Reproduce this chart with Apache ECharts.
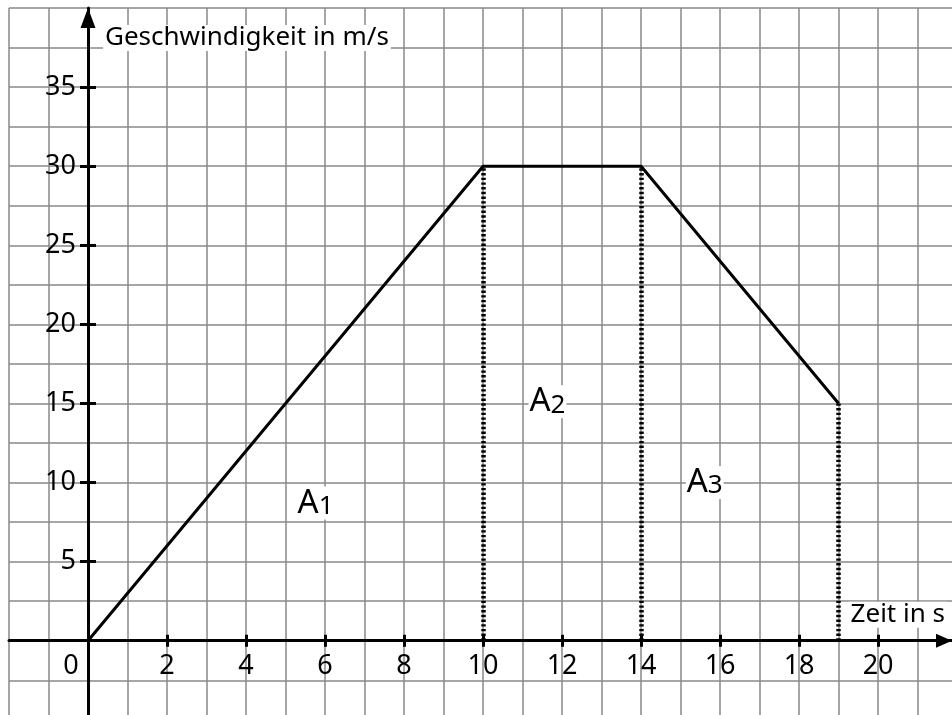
<!DOCTYPE html>
<html><head><meta charset="utf-8">
<script src="https://cdn.jsdelivr.net/npm/echarts@6/dist/echarts.min.js"></script>
<style>html,body{margin:0;padding:0;background:#fff}#c{width:952px;height:715px}</style>
</head><body><div id="c"></div>
<script>
// ---- data ----
const timeS = [0, 10, 14, 19];
const speedMs = [0, 30, 30, 15];
const xTickValues = [2, 4, 6, 8, 10, 12, 14, 16, 18, 20];
const yTickValues = [5, 10, 15, 20, 25, 30, 35];
const areaNames = ['1', '2', '3'];
const areaLabelX = [5.76, 11.63, 15.61];
const areaLabelY = [8.7, 15.1, 10.0];
const xAxisTitle = 'Zeit in s';
const yAxisTitle = 'Geschwindigkeit in m/s';

// ---- chart ----
const FONT = 'Noto Sans';
const gridColor = '#888888';
const chart = echarts.init(document.getElementById('c'), null, {renderer: 'canvas'});

const speedPoints = timeS.map((t, i) => [t, speedMs[i]]);
const dropLines = timeS.slice(1).map((t, i) => [{coord: [t, 0]}, {coord: [t, speedMs[i + 1]]}]);
const areaPoints = areaNames.map((n, i) => ({value: [areaLabelX[i], areaLabelY[i]], name: n}));

const X_MIN = -2, X_MAX = 21.87, Y_MIN = -5, Y_MAX = 40;
const W = 952, H = 715, G_LEFT = 9, G_TOP = 8, G_BOTTOM = -4.8;
const pxPerX = (W - G_LEFT) / (X_MAX - X_MIN);
const pxPerY = (H - G_TOP - G_BOTTOM) / (Y_MAX - Y_MIN);
const zeroLeft = G_LEFT - X_MIN * pxPerX;           // pixel column of t = 0
const zeroBottom = H - (G_TOP + Y_MAX * pxPerY);    // distance of v = 0 from the bottom

const tickStyle = {color: '#000', width: 3};
const txt = {fontSize: 26, fontFamily: FONT, color: '#000'};
const tickTxt = {fontSize: 27, fontFamily: FONT, color: '#000'};
const off = {show: false};

const option = {
  animation: false,
  grid: [
    {left: G_LEFT, right: 0, top: G_TOP, bottom: G_BOTTOM, containLabel: false, outerBoundsMode: 'none'},
    {left: zeroLeft, right: 0, top: G_TOP, bottom: zeroBottom, containLabel: false, outerBoundsMode: 'none'}
  ],
  xAxis: [
    { // 0: grid lines every 1 s
      type: 'value', gridIndex: 0, position: 'top', min: X_MIN, max: X_MAX, interval: 1,
      axisLine: {show: false, onZero: false}, axisTick: off, axisLabel: off,
      splitLine: {show: true, showMinLine: true, showMaxLine: false, lineStyle: {color: gridColor, width: 1.5}}
    },
    { // 1: main time axis
      type: 'value', gridIndex: 0, position: 'bottom', min: X_MIN, max: X_MAX, interval: 2,
      axisLine: {show: true, onZero: true, onZeroAxisIndex: 1, symbol: ['none', 'triangle'],
        symbolSize: [14, 16], symbolOffset: [0, -8], lineStyle: {color: '#000', width: 3}},
      axisTick: {show: true, customValues: xTickValues, length: 6, lineStyle: tickStyle},
      axisLabel: off, splitLine: off,
      name: '{t|' + xAxisTitle + '}', nameLocation: 'end', nameGap: 0, nameMoveOverlap: false,
      nameTextStyle: {align: 'right', verticalAlign: 'bottom', padding: [0, 5, 13, 0],
        rich: {t: Object.assign({backgroundColor: '#fff', padding: [0, 2, 0, 2]}, txt)}}
    },
    { // 2: upper half of crossing ticks
      type: 'value', gridIndex: 0, position: 'top', min: X_MIN, max: X_MAX, interval: 2,
      axisLine: {show: true, onZero: true, onZeroAxisIndex: 1, lineStyle: {opacity: 0}},
      axisTick: {show: true, customValues: xTickValues, length: 6, lineStyle: tickStyle},
      axisLabel: off, splitLine: off
    },
    { // 3: tick labels of the time axis (grid whose bottom edge is v = 0)
      type: 'value', gridIndex: 1, position: 'bottom', min: 0, max: X_MAX, interval: 2,
      axisLine: {show: false, onZero: false}, axisTick: off, splitLine: off,
      axisLabel: Object.assign({show: true, margin: 12, showMinLabel: true, showMaxLabel: false,
        formatter: v => v === 0 ? '{z|0}' : (v > 0 && v <= 20 ? String(v) : ''),
        rich: {z: Object.assign({padding: [0, 34, 0, 0]}, tickTxt)}}, tickTxt)
    }
  ],
  yAxis: [
    { // 0: grid lines every 2.5 m/s
      type: 'value', gridIndex: 0, position: 'right', min: Y_MIN, max: Y_MAX, interval: 2.5,
      axisLine: {show: false, onZero: false}, axisTick: off, axisLabel: off,
      splitLine: {show: true, lineStyle: {color: gridColor, width: 1.5}}
    },
    { // 1: main speed axis
      type: 'value', gridIndex: 0, position: 'left', min: Y_MIN, max: Y_MAX, interval: 5,
      axisLine: {show: true, onZero: true, onZeroAxisIndex: 1, symbol: ['none', 'triangle'],
        symbolSize: [15, 20], symbolOffset: [0, -10], lineStyle: {color: '#000', width: 3}},
      axisTick: {show: true, customValues: yTickValues, length: 8, lineStyle: tickStyle},
      axisLabel: off, splitLine: off,
      name: '{t|' + yAxisTitle + '}', nameLocation: 'end', nameGap: 0, nameMoveOverlap: false,
      nameTextStyle: {align: 'left', verticalAlign: 'top', padding: [17, 0, 0, 15],
        rich: {t: Object.assign({backgroundColor: '#fff', padding: [0, 2, 0, 2]}, txt)}}
    },
    { // 2: right half of crossing ticks
      type: 'value', gridIndex: 0, position: 'right', min: Y_MIN, max: Y_MAX, interval: 5,
      axisLine: {show: true, onZero: true, onZeroAxisIndex: 1, lineStyle: {opacity: 0}},
      axisTick: {show: true, customValues: yTickValues, length: 8, lineStyle: tickStyle},
      axisLabel: off, splitLine: off
    },
    { // 3: tick labels of the speed axis (grid whose left edge is t = 0)
      type: 'value', gridIndex: 1, position: 'left', min: 0, max: Y_MAX, interval: 5,
      axisLine: {show: false, onZero: false}, axisTick: off, splitLine: off,
      axisLabel: Object.assign({show: true, margin: 12, showMinLabel: true, showMaxLabel: true,
        formatter: v => (v > 0 && v < 40 ? String(v) : '')}, tickTxt)
    }
  ],
  series: [
    {
      type: 'line', xAxisIndex: 1, yAxisIndex: 1, data: speedPoints, symbol: 'none', silent: true, z: 4,
      lineStyle: {color: '#000', width: 3},
      markLine: {silent: true, symbol: ['none', 'none'], label: {show: false},
        lineStyle: {color: '#000', width: 4.5, type: [2.4, 2.3]}, emphasis: {disabled: true},
        data: dropLines}
    },
    {
      type: 'scatter', xAxisIndex: 1, yAxisIndex: 1, data: areaPoints, symbolSize: 1, silent: true, z: 5,
      itemStyle: {color: 'rgba(0,0,0,0)'},
      label: {show: true, opacity: 1, position: 'inside', backgroundColor: '#fff', padding: [0, 1, 0, 1],
        formatter: p => '{a|A}{s|' + p.name + '}',
        rich: {
          a: {fontSize: 33, fontFamily: FONT, color: '#000', verticalAlign: 'bottom'},
          s: {fontSize: 26, fontFamily: FONT, color: '#000', verticalAlign: 'bottom'}
        }}
    }
  ]
};
chart.setOption(option);
</script>
</body></html>
